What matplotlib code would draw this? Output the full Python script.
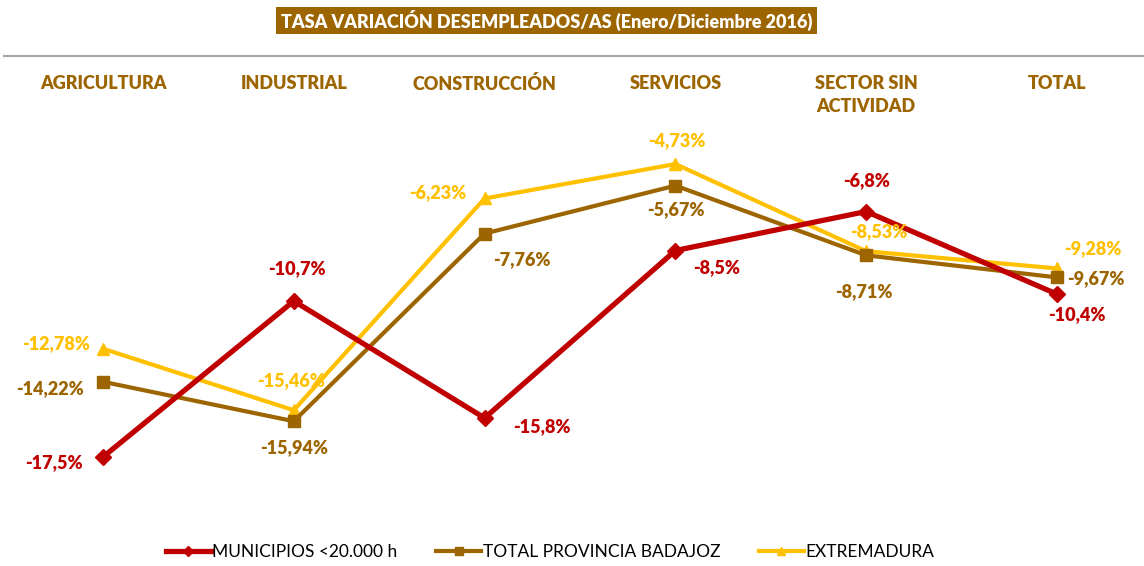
import matplotlib.pyplot as plt
from matplotlib.patches import Rectangle
from matplotlib.lines import Line2D

plt.rcParams['font.family'] = ['Lato', 'DejaVu Sans']

# data
categories = ["AGRICULTURA", "INDUSTRIAL", "CONSTRUCCIÓN", "SERVICIOS",
              "SECTOR SIN\nACTIVIDAD", "TOTAL"]
municipios = [-17.5, -10.7, -15.8, -8.5, -6.8, -10.4]
provincia = [-14.22, -15.94, -7.76, -5.67, -8.71, -9.67]
extremadura = [-12.78, -15.46, -6.23, -4.73, -8.53, -9.28]
mun_labels = ["-17,5%", "-10,7%", "-15,8%", "-8,5%", "-6,8%", "-10,4%"]
prov_labels = ["-14,22%", "-15,94%", "-7,76%", "-5,67%", "-8,71%", "-9,67%"]
ext_labels = ["-12,78%", "-15,46%", "-6,23%", "-4,73%", "-8,53%", "-9,28%"]

RED = "#C00000"
BROWN = "#9C6500"
YELLOW = "#FFC000"

W, H = 1144, 566
fig = plt.figure(figsize=(W / 100, H / 100), dpi=100)
ax = fig.add_axes([0, 0, 1, 1])
ax.set_xlim(-0.5398, 5.456)
ax.set_ylim(-22.25, 2.42)
ax.axis("off")

x = list(range(len(categories)))
ax.plot(x, extremadura, color=YELLOW, lw=3.0, marker="^", ms=9, zorder=3,
        label="EXTREMADURA")
ax.plot(x, provincia, color=BROWN, lw=3.0, marker="s", ms=9, zorder=4,
        label="TOTAL PROVINCIA BADAJOZ")
ax.plot(x, municipios, color=RED, lw=3.8, marker="D", ms=8, zorder=5,
        label="MUNICIPIOS <20.000 h")

# label offsets in points
mun_off = [(-35, -4), (2, 23), (41, -6), (30, -12), (0, 22), (14, -15)]
prov_off = [(-38, -5), (0, -19), (27, -19), (0, -17), (-2, -26), (28, -1)]
ext_off = [(-34, 4), (-2, 21), (-34, 4), (1, 17), (9, 14), (26, 14)]

for vals, labs, offs, col in [(municipios, mun_labels, mun_off, RED),
                              (provincia, prov_labels, prov_off, BROWN),
                              (extremadura, ext_labels, ext_off, YELLOW)]:
    for i in range(len(vals)):
        ax.annotate(labs[i], (i, vals[i]), xytext=offs[i], textcoords="offset points",
                    ha="center", va="center", color=col, fontsize=13,
                    fontweight="heavy", zorder=6)

# category headers
for i, c in enumerate(categories):
    ax.text(i, 1 - 75 / H, c, transform=ax.get_xaxis_transform(), ha="center",
            va="top", color=BROWN, fontsize=13, fontweight="heavy",
            linespacing=1.45)

# title box
fig.patches.append(Rectangle((276 / W, 1 - 34 / H), (817 - 276) / W, 27 / H,
                             transform=fig.transFigure, facecolor=BROWN,
                             edgecolor="none"))
fig.text(547 / W, 1 - 20.5 / H, "TASA VARIACIÓN DESEMPLEADOS/AS (Enero/Diciembre 2016)",
         ha="center", va="center", color="white", fontsize=13, fontweight="heavy")

fig.lines.append(Line2D([4 / W, 1], [1 - 56 / H, 1 - 56 / H], transform=fig.transFigure,
                        color="#A6A6A6", lw=1.6))

handles, labels = ax.get_legend_handles_labels()
leg = fig.legend(handles[::-1], labels[::-1], loc="center", bbox_to_anchor=(550 / W, 1 - 552 / H),
                 ncol=3, frameon=False, fontsize=12.5, handlelength=2.6,
                 columnspacing=2.2, handletextpad=0.1, markerscale=0.7)

fig.savefig("out.png", dpi=100)
